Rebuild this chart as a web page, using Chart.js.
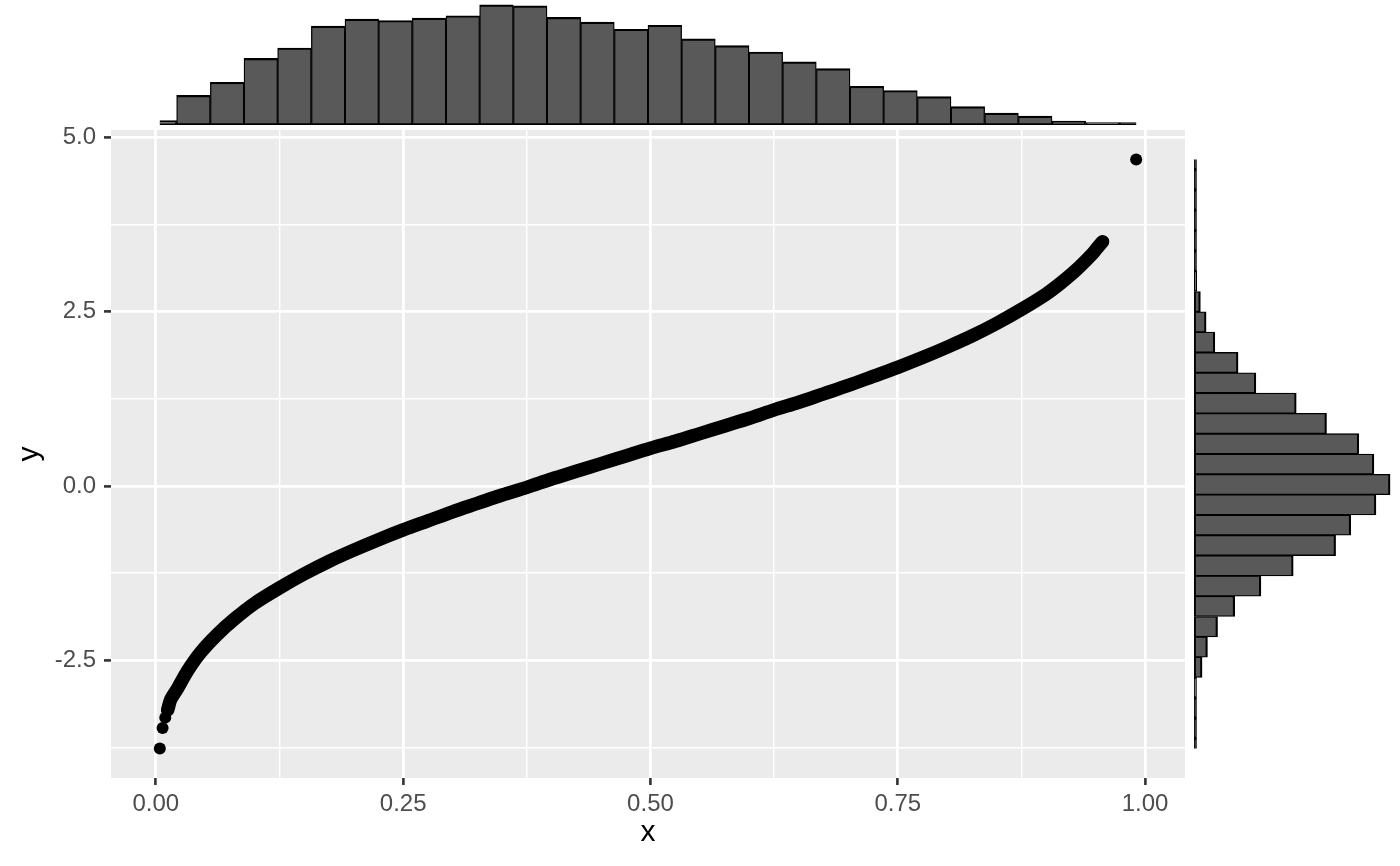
<!DOCTYPE html>
<html><head><meta charset="utf-8">
<script src="https://cdn.jsdelivr.net/npm/chart.js@4.4.0/dist/chart.umd.min.js"></script>
<style>
html,body{margin:0;padding:0;background:#fff;}
#wrap{position:relative;width:1400px;height:866px;overflow:hidden;}
canvas{position:absolute;left:0;top:0;}
</style></head><body>
<div id="wrap">
<canvas id="main" width="1400" height="866"></canvas>
<canvas id="top" width="1400" height="866"></canvas>
<canvas id="right" width="1400" height="866"></canvas>
</div>
<script>
// ---- data ----
const curveX = [0.012,0.015,0.022,0.032,0.045,0.062,0.080,0.100,0.125,0.150,0.175,0.200,0.225,0.250,0.275,0.300,0.325,0.350,0.375,0.400,0.425,0.450,0.475,0.500,0.525,0.550,0.575,0.600,0.625,0.650,0.675,0.700,0.725,0.750,0.775,0.800,0.825,0.850,0.875,0.900,0.915,0.930,0.945,0.951,0.957];
const curveY = [-3.21,-3.06,-2.90,-2.65,-2.39,-2.13,-1.90,-1.68,-1.46,-1.26,-1.08,-0.92,-0.77,-0.63,-0.50,-0.37,-0.25,-0.13,-0.02,0.10,0.21,0.32,0.43,0.54,0.64,0.75,0.86,0.97,1.09,1.20,1.32,1.44,1.57,1.70,1.84,1.99,2.15,2.33,2.53,2.75,2.91,3.09,3.30,3.40,3.50];
const pointX = [0.0040,0.0068,0.0095,0.0115,0.9910];
const pointY = [-3.763,-3.47,-3.32,-3.21,4.679];

const xBinCenters = [0.0040,0.0380,0.0721,0.1061,0.1401,0.1742,0.2082,0.2422,0.2763,0.3103,0.3443,0.3784,0.4124,0.4464,0.4805,0.5145,0.5485,0.5826,0.6166,0.6506,0.6847,0.7187,0.7527,0.7868,0.8208,0.8549,0.8889,0.9229,0.9570,0.9910];
const xBinCounts = [23,156,225,351,406,521,558,551,564,576,633,628,567,542,505,526,454,419,385,333,297,204,182,150,97,63,47,21,11,5];

const yBinCenters = [-3.7630,-3.4719,-3.1808,-2.8897,-2.5986,-2.3075,-2.0164,-1.7253,-1.4342,-1.1431,-0.8520,-0.5609,-0.2698,0.0213,0.3124,0.6035,0.8946,1.1857,1.4768,1.7679,2.0590,2.3501,2.6412,2.9323,3.2234,3.5145,3.8056,4.0967,4.3878,4.6789];
const yBinCounts = [1,2,6,12,48,80,140,242,398,590,842,932,1082,1166,1070,980,788,608,368,262,124,72,38,16,7,5,3,1,1,1];

const xMajorTicks = [0,0.25,0.5,0.75,1];
const xMinorTicks = [0.125,0.375,0.625,0.875];
const xTickLabels = ['0.00','0.25','0.50','0.75','1.00'];
const yMajorTicks = [-2.5,0,2.5,5];
const yMinorTicks = [-3.75,-1.25,1.25,3.75];
const yTickLabels = ['-2.5','0.0','2.5','5.0'];
const xTitle = 'x';
const yTitle = 'y';

// ---- layout / style ----
Chart.defaults.font.family = "'Liberation Sans', Arial, sans-serif";
const W = 1400, H = 866;
const xMin = xBinCenters[0], xMax = xBinCenters[xBinCenters.length-1];
const yMin = yBinCenters[0], yMax = yBinCenters[yBinCenters.length-1];
const xExp = 0.05*(xMax-xMin), yExp = 0.05*(yMax-yMin);

const isIn = (arr, v) => arr.some(a => Math.abs(a - v) < 1e-9);
function axisFor(major, minor, labels, title, horizontal) {
  return {
    type: 'linear',
    afterBuildTicks: s => { s.ticks = major.concat(minor).sort((a,b)=>a-b).map(v => ({value: v})); },
    afterFit: s => { if (horizontal) s.height = 88; else s.width = 111; },
    border: {display: false},
    grid: {
      color: '#FFFFFF',
      lineWidth: c => (c.tick && isIn(major, c.tick.value)) ? 2.8 : 1.4,
      drawTicks: true,
      tickLength: 7,
      tickWidth: 2.6,
      tickColor: c => (c.tick && isIn(major, c.tick.value)) ? '#333333' : 'rgba(0,0,0,0)'
    },
    ticks: {
      autoSkip: false, maxRotation: 0, minRotation: 0,
      padding: horizontal ? 5 : 8,
      color: '#4D4D4D',
      font: {size: 24},
      callback: v => { const i = major.findIndex(m => Math.abs(m - v) < 1e-9); return i >= 0 ? labels[i] : ''; }
    },
    title: {
      display: true, text: title, color: '#000000', font: {size: 30},
      padding: horizontal ? {top: 0, bottom: 15} : {top: 12, bottom: 0}
    }
  };
}

const panelBg = {
  id: 'panelBg',
  beforeDraw(chart) {
    const {ctx, chartArea: a} = chart;
    ctx.save(); ctx.fillStyle = '#EBEBEB';
    ctx.fillRect(a.left, a.top, a.right - a.left, a.bottom - a.top);
    ctx.restore();
  }
};

const xAxis = axisFor(xMajorTicks, xMinorTicks, xTickLabels, xTitle, true);
xAxis.min = xMin - xExp; xAxis.max = xMax + xExp;
const yAxis = axisFor(yMajorTicks, yMinorTicks, yTickLabels, yTitle, false);
yAxis.min = yMin - yExp; yAxis.max = yMax + yExp;

const main = new Chart(document.getElementById('main'), {
  type: 'scatter',
  data: {
    datasets: [
      {
        data: curveX.map((x, i) => ({x, y: curveY[i]})),
        showLine: true, borderColor: '#000000', borderWidth: 13.5,
        borderCapStyle: 'round', borderJoinStyle: 'round',
        pointRadius: 0, tension: 0.3
      },
      {
        data: pointX.map((x, i) => ({x, y: pointY[i]})),
        showLine: false, pointRadius: 6, pointBackgroundColor: '#000000', pointBorderWidth: 0
      }
    ]
  },
  options: {
    responsive: false, animation: false, events: [],
    layout: {padding: {left: 0, top: 130, right: 215, bottom: 0}},
    plugins: {legend: {display: false}, tooltip: {enabled: false}},
    scales: {x: xAxis, y: yAxis}
  },
  plugins: [panelBg]
});

const pxL = main.scales.x.getPixelForValue(xMin);
const pxR = main.scales.x.getPixelForValue(xMax);
const pyT = main.scales.y.getPixelForValue(yMax);
const pyB = main.scales.y.getPixelForValue(yMin);

// near-empty bins show only as their black outline (as in the reference)
const histFill = key => c => (c.raw && c.raw[key] < 10) ? '#000000' : '#595959';
const histStyle = {borderColor: '#000000', borderSkipped: false,
  barPercentage: 1, categoryPercentage: 1, minBarLength: 2.5, clip: 0};

new Chart(document.getElementById('top'), {
  type: 'bar',
  data: {datasets: [Object.assign({
    data: xBinCenters.map((c, i) => ({x: c, y: xBinCounts[i]})),
    backgroundColor: histFill('y'),
    borderWidth: {top: 2.2, left: 1.3, right: 1.3, bottom: 2.2}
  }, histStyle)]},
  options: {
    responsive: false, animation: false, events: [],
    layout: {padding: {left: pxL, right: W - pxR, top: 0, bottom: H - 125}},
    plugins: {legend: {display: false}, tooltip: {enabled: false}},
    scales: {
      x: {type: 'linear', display: false, offset: false, min: xMin, max: xMax, ticks: {stepSize: 0.5, includeBounds: false}},
      y: {type: 'linear', display: false, min: 0, max: 659}
    }
  }
});

new Chart(document.getElementById('right'), {
  type: 'bar',
  data: {datasets: [Object.assign({
    data: yBinCenters.map((c, i) => ({y: c, x: yBinCounts[i]})),
    backgroundColor: histFill('x'),
    borderWidth: {top: 1.3, bottom: 1.3, left: 2.2, right: 2.2}
  }, histStyle)]},
  options: {
    indexAxis: 'y',
    responsive: false, animation: false, events: [],
    layout: {padding: {left: 1194, right: 0, top: pyT, bottom: H - pyB}},
    plugins: {legend: {display: false}, tooltip: {enabled: false}},
    scales: {
      y: {type: 'linear', display: false, offset: false, min: yMin, max: yMax, ticks: {stepSize: 5, includeBounds: false}},
      x: {type: 'linear', display: false, min: 0, max: 1225}
    }
  }
});
</script>
</body></html>
